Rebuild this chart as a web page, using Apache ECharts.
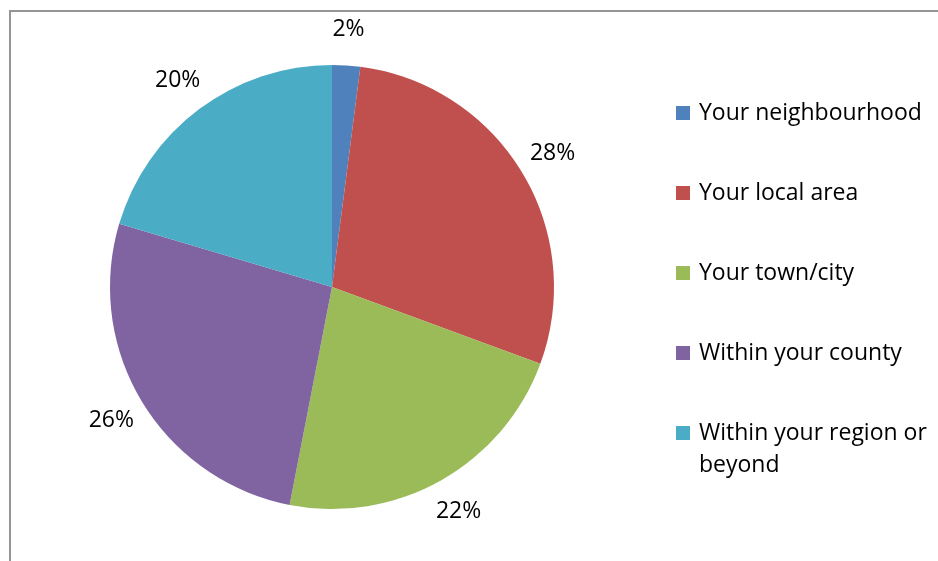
<!DOCTYPE html>
<html>
<head>
<meta charset="utf-8">
<script src="https://cdn.jsdelivr.net/npm/echarts@6/dist/echarts.min.js"></script>
<style>
  html, body { margin: 0; padding: 0; background: #fff; }
  #chart { width: 938px; height: 561px; }
</style>
</head>
<body>
<div id="chart"></div>
<script>
// Survey answers: geographic scope, share of respondents (%)
const categories = [
  'Your neighbourhood',
  'Your local area',
  'Your town/city',
  'Within your county',
  'Within your region or beyond'
];
const shares = [2, 28, 22, 26, 20];
const colors = ['#4F81BD', '#C0504D', '#9BBB59', '#8064A2', '#4BACC6'];

const FONT = '"Open Sans", "Noto Sans", sans-serif';
const pieData = categories.map((name, i) => ({ name: name, value: shares[i] }));

const legendText = {
  color: '#000',
  fontFamily: FONT,
  fontSize: 23,
  lineHeight: 32,
  padding: [0, 0, 0, 4]
};

const chart = echarts.init(document.getElementById('chart'), null, { renderer: 'canvas' });
chart.setOption({
  animation: false,
  color: colors,
  graphic: [{
    type: 'rect',
    shape: { x: 10, y: 11, width: 1000, height: 700 },
    style: { fill: 'none', stroke: '#959595', lineWidth: 2 },
    silent: true,
    z: -1
  }],
  legend: [{
    // single-line entries
    data: categories.slice(0, 4),
    orient: 'vertical',
    left: 676,
    top: 97,
    padding: 0,
    itemGap: 48,
    itemWidth: 14,
    itemHeight: 14,
    icon: 'rect',
    textStyle: legendText
  }, {
    // wrapped entry; the leading blank line keeps the marker level with "Within"
    data: categories.slice(4),
    orient: 'vertical',
    left: 676,
    top: 385,
    padding: 0,
    itemWidth: 14,
    itemHeight: 14,
    icon: 'rect',
    formatter: name => '\n' + name.replace(' or beyond', ' or\nbeyond'),
    textStyle: legendText
  }],
  series: [{
    // the pie itself
    type: 'pie',
    center: [332, 287],
    radius: 222,
    startAngle: 90,
    clockwise: true,
    data: pieData,
    itemStyle: { borderWidth: 0 },
    label: { show: false },
    labelLine: { show: false },
    emphasis: { disabled: true }
  }, {
    // clear ring just outside the pie that carries the percentage labels
    type: 'pie',
    center: [332, 287],
    radius: [222, 288],
    startAngle: 90,
    clockwise: true,
    silent: true,
    data: pieData,
    itemStyle: { color: 'rgba(0,0,0,0)', borderWidth: 0 },
    label: {
      show: true,
      position: 'inside',
      formatter: '{c}%',
      color: '#000',
      fontFamily: FONT,
      fontSize: 23
    },
    labelLine: { show: false },
    emphasis: { disabled: true },
    tooltip: { show: false }
  }]
});
</script>
</body>
</html>
